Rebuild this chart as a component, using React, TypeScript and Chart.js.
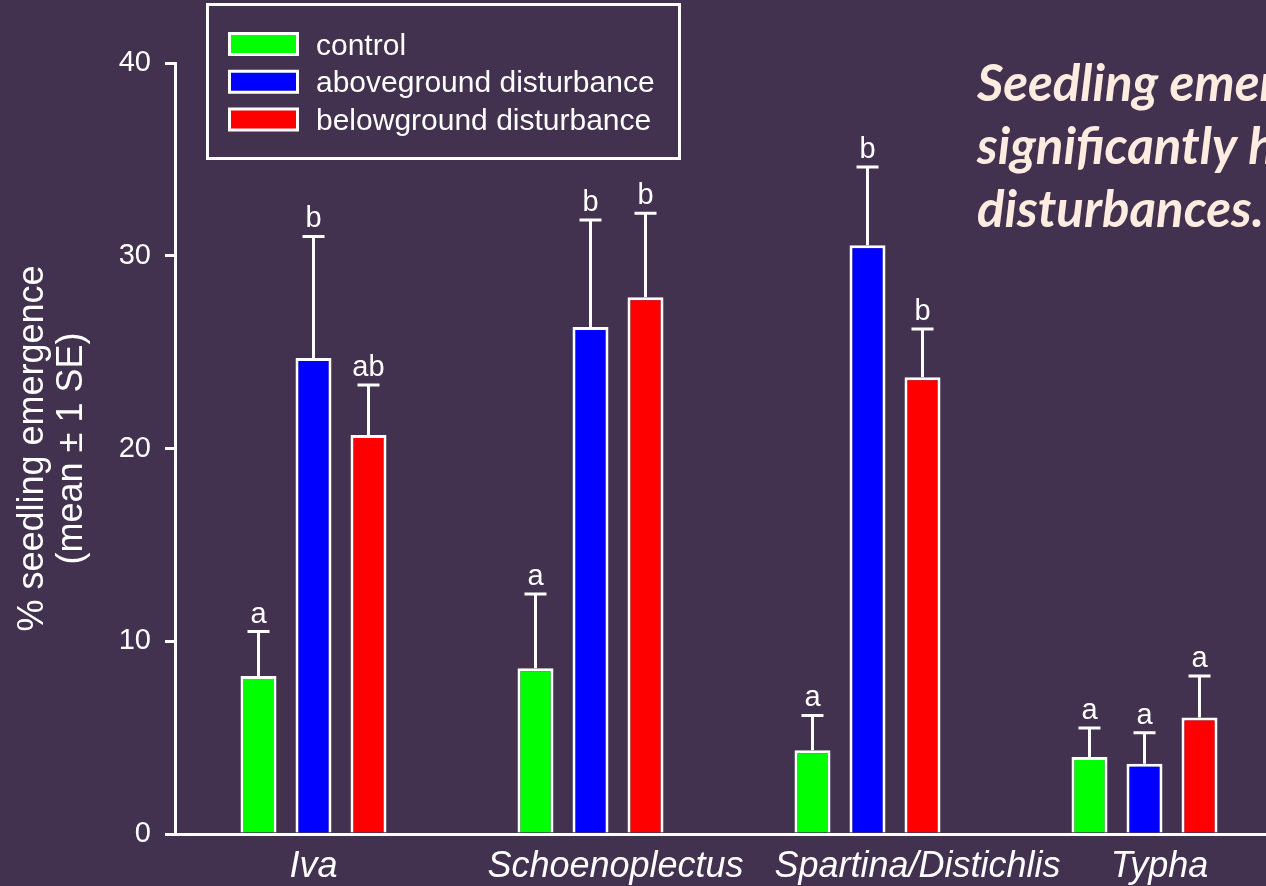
import React, { useEffect, useRef } from 'react';
import { Chart, registerables } from 'chart.js';

Chart.register(...registerables);

const categories = ['Iva', 'Schoenoplectus', 'Spartina/Distichlis', 'Typha'];
const seriesNames = ['control', 'aboveground disturbance', 'belowground disturbance'];
const seriesColors = ['#00FF00', '#0000FF', '#FF0000'];
const controlMean = [8.2, 8.6, 4.35, 4.0];
const aboveMean = [24.7, 26.3, 30.55, 3.65];
const belowMean = [20.7, 27.85, 23.7, 6.05];
const controlSE = [2.3, 3.85, 1.8, 1.5];
const aboveSE = [6.3, 5.55, 4.05, 1.6];
const belowSE = [2.6, 4.35, 2.5, 2.15];
const controlLetters = ['a', 'a', 'a', 'a'];
const aboveLetters = ['b', 'b', 'b', 'a'];
const belowLetters = ['ab', 'b', 'b', 'a'];
const yMin = 0;
const yMax = 40;
const yStep = 10;
const yTitle = ['% seedling emergence', '(mean ± 1 SE)'];
const noteLines = ['Seedling emergence', 'significantly higher', 'disturbances.'];

const BG = '#42314F';
const FONT = '"Liberation Sans", Arial, sans-serif';
const CANVAS_W = 1283;
const CANVAS_H = 886;
// leading spaces nudging the hand-placed category captions (style only)
const LABEL_INDENT = [0, 5, 10, 3];

const overlayPlugin = {
  id: 'overlay',
  afterDatasetsDraw(chart: any) {
    const ctx = chart.ctx;
    const yScale = chart.scales.y;
    ctx.save();
    // error bars and letters
    chart.data.datasets.forEach((ds: any, di: number) => {
      const meta = chart.getDatasetMeta(di);
      meta.data.forEach((bar: any, i: number) => {
        const topY = yScale.getPixelForValue(ds.data[i] + ds.se[i]);
        ctx.strokeStyle = '#FFFFFF';
        ctx.lineWidth = 3;
        ctx.beginPath();
        ctx.moveTo(bar.x, bar.y);
        ctx.lineTo(bar.x, topY);
        ctx.moveTo(bar.x - 11, topY);
        ctx.lineTo(bar.x + 11, topY);
        ctx.stroke();
        ctx.fillStyle = '#FFFFFF';
        ctx.font = '29px ' + FONT;
        ctx.textAlign = 'center';
        ctx.textBaseline = 'alphabetic';
        ctx.fillText(ds.letters[i], bar.x, topY - 9);
      });
    });
    // legend box
    ctx.strokeStyle = '#FFFFFF';
    ctx.lineWidth = 3;
    ctx.strokeRect(207.5, 4.5, 472, 154);
    chart.data.datasets.forEach((ds: any, di: number) => {
      const cy = 44 + di * 37.75;
      ctx.fillStyle = ds.backgroundColor;
      ctx.fillRect(229.5, cy - 10.5, 68, 21);
      ctx.strokeStyle = '#FFFFFF';
      ctx.lineWidth = 3;
      ctx.strokeRect(229.5, cy - 10.5, 68, 21);
      ctx.fillStyle = '#FFFFFF';
      ctx.font = '30px ' + FONT;
      ctx.textAlign = 'left';
      ctx.textBaseline = 'alphabetic';
      ctx.fillText(ds.label, 316, cy + 10.5);
    });
    // annotation
    ctx.fillStyle = '#FDECDF';
    ctx.font = 'italic bold 51px Lato, "Open Sans", sans-serif';
    ctx.textAlign = 'left';
    ctx.textBaseline = 'alphabetic';
    noteLines.forEach((t, i) => {
      ctx.fillText(t, 977, 101 + i * 63);
    });
    ctx.restore();
  },
};

export default function App() {
  const canvasRef = useRef<HTMLCanvasElement | null>(null);

  useEffect(() => {
    if (!canvasRef.current) return;
    const means = [controlMean, aboveMean, belowMean];
    const ses = [controlSE, aboveSE, belowSE];
    const letters = [controlLetters, aboveLetters, belowLetters];
    const chart = new Chart(canvasRef.current, {
      type: 'bar',
      data: {
        labels: categories,
        datasets: seriesNames.map((name, i) => ({
          label: name,
          data: means[i],
          se: ses[i],
          letters: letters[i],
          backgroundColor: seriesColors[i],
          borderColor: '#FFFFFF',
          borderWidth: 3,
          borderSkipped: 'bottom',
          categoryPercentage: 0.5957,
          barPercentage: 0.6545,
        })) as any,
      },
      options: {
        responsive: false,
        animation: false,
        events: [],
        layout: { padding: { top: 63, right: 0, left: 0, bottom: 0 } },
        plugins: {
          legend: { display: false },
          tooltip: { enabled: false },
        },
        scales: {
          x: {
            type: 'category',
            offset: true,
            grid: { display: false, drawTicks: false },
            border: { display: true, color: '#FFFFFF', width: 3 },
            ticks: {
              color: '#FFFFFF',
              font: { family: FONT, size: 36, style: 'italic' },
              padding: 11,
              maxRotation: 0,
              autoSkip: false,
              callback: function (this: any, value: any, index: number) {
                const lab = this.getLabelForValue(value);
                return ' '.repeat(LABEL_INDENT[index] || 0) + lab;
              },
            },
            afterFit: (scale: any) => {
              scale.height = 52;
            },
          },
          y: {
            type: 'linear',
            min: yMin,
            max: yMax,
            ticks: {
              stepSize: yStep,
              color: '#FFFFFF',
              font: { family: FONT, size: 29 },
              padding: 14,
            },
            grid: {
              display: true,
              drawOnChartArea: false,
              drawTicks: true,
              tickLength: 10,
              color: '#FFFFFF',
              lineWidth: 3,
            },
            border: { display: true, color: '#FFFFFF', width: 3 },
            title: {
              display: true,
              text: yTitle,
              color: '#FFFFFF',
              font: { family: FONT, size: 36, lineHeight: 1.1 },
              padding: { top: 13, bottom: 0 },
            },
            afterFit: (scale: any) => {
              scale.width = 175;
            },
          },
        },
      },
      plugins: [overlayPlugin],
    });
    return () => chart.destroy();
  }, []);

  return (
    <div
      style={{
        position: 'absolute',
        left: 0,
        top: 0,
        width: 1266,
        height: 886,
        overflow: 'hidden',
        background: BG,
      }}
    >
      <canvas
        ref={canvasRef}
        width={CANVAS_W}
        height={CANVAS_H}
        style={{ display: 'block', width: CANVAS_W, height: CANVAS_H }}
      />
    </div>
  );
}
